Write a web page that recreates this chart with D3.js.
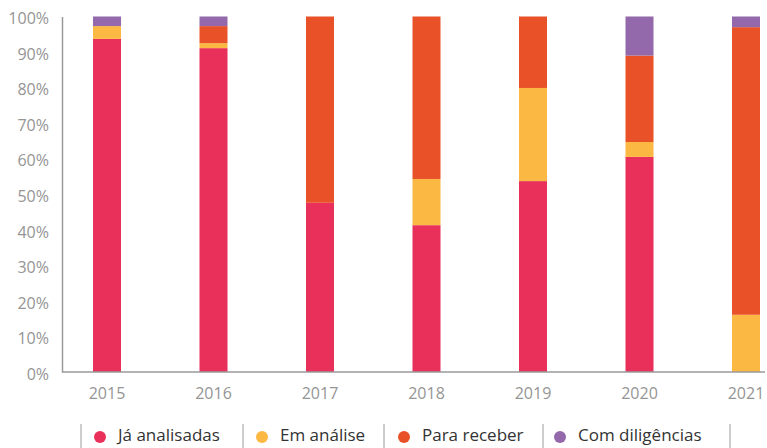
<!DOCTYPE html>
<html>
<head>
<meta charset="utf-8">
<script src="https://cdn.jsdelivr.net/npm/d3@7"></script>
<style>
  html, body { margin: 0; padding: 0; background: #fff; }
  svg { display: block; font-family: "Open Sans", "Noto Sans", sans-serif; }
</style>
</head>
<body>
<svg id="chart" width="767" height="448"></svg>
<script>
// Years on the x axis
const years = ["2015", "2016", "2017", "2018", "2019", "2020", "2021"];

// Share of each status per year (%)
const jaAnalisadas   = [93.7, 91.1, 47.6, 41.3, 53.7, 60.5, 0];
const emAnalise      = [3.6, 1.4, 0, 13.0, 26.2, 4.2, 16.1];
const paraReceber    = [0, 4.8, 52.4, 45.7, 20.1, 24.3, 80.9];
const comDiligencias = [2.7, 2.7, 0, 0, 0, 11.0, 3.0];

const seriesNames = ["Já analisadas", "Em análise", "Para receber", "Com diligências"];
const seriesColors = ["#e8305a", "#fbb843", "#e95228", "#9469ab"];
const yTicks = [0, 10, 20, 30, 40, 50, 60, 70, 80, 90, 100];

const rows = years.map((y, i) => ({
  year: y,
  "Já analisadas": jaAnalisadas[i],
  "Em análise": emAnalise[i],
  "Para receber": paraReceber[i],
  "Com diligências": comDiligencias[i]
}));

const svg = d3.select("#chart");
const axisX0 = 62, axisX1 = 765;
const yTop = 16.5, yBottom = 372;

const x = d3.scaleBand()
  .domain(years)
  .range([53.75, 799.25])
  .paddingInner(0.737)
  .paddingOuter(0.3685);

const y = d3.scaleLinear().domain([0, 100]).range([yBottom, yTop]);

const stack = d3.stack().keys(seriesNames);
const layers = stack(rows);

// Stacked bars
svg.append("g").selectAll("g")
  .data(layers)
  .join("g")
  .attr("fill", (d, i) => seriesColors[i])
  .selectAll("rect")
  .data(d => d.filter(s => s[1] - s[0] > 0))
  .join("rect")
  .attr("x", d => x(d.data.year))
  .attr("width", x.bandwidth())
  .attr("y", d => y(d[1]))
  .attr("height", d => y(d[0]) - y(d[1]));

// Y axis labels and line
const yAxis = svg.append("g")
  .attr("transform", `translate(${axisX0},0)`)
  .call(d3.axisLeft(y).tickValues(yTicks).tickFormat(d => d + "%").tickSize(0).tickPadding(13));
yAxis.select(".domain").attr("stroke", "#9a9a9a").attr("stroke-width", 1.5);
yAxis.selectAll("text")
  .attr("fill", "#959595")
  .attr("dy", "0.45em")
  .style("font-size", "16px")
  .style("font-family", "'Open Sans', sans-serif");

// X axis labels and baseline
const xAxis = svg.append("g")
  .attr("transform", `translate(0,${yBottom})`)
  .call(d3.axisBottom(x).tickSize(0).tickPadding(16));
xAxis.select(".domain").remove();
xAxis.append("line")
  .attr("x1", axisX0).attr("x2", axisX1)
  .attr("stroke", "#9a9a9a").attr("stroke-width", 1.5);
xAxis.selectAll("text")
  .attr("fill", "#959595")
  .style("font-size", "16px")
  .style("font-family", "'Open Sans', sans-serif");

// Legend with vertical separators
const legend = svg.append("g").attr("class", "legend");
const legendY = 435;
const sepPositions = [81, 243, 384, 543, 730];
legend.selectAll("line")
  .data(sepPositions)
  .join("line")
  .attr("x1", d => d).attr("x2", d => d)
  .attr("y1", 424).attr("y2", 448)
  .attr("stroke", "#9a9a9a").attr("stroke-width", 1);

const dotX = [100, 262, 404, 560];
const items = legend.selectAll("g.item")
  .data(seriesNames)
  .join("g")
  .attr("class", "item")
  .attr("transform", (d, i) => `translate(${dotX[i]},${legendY})`);
items.append("circle")
  .attr("r", 6)
  .attr("cy", 2)
  .attr("fill", (d, i) => seriesColors[i]);
items.append("text")
  .attr("x", 18)
  .attr("dy", "0.38em")
  .attr("fill", "#333")
  .style("font-size", "17px")
  .text(d => d);
</script>
</body>
</html>
